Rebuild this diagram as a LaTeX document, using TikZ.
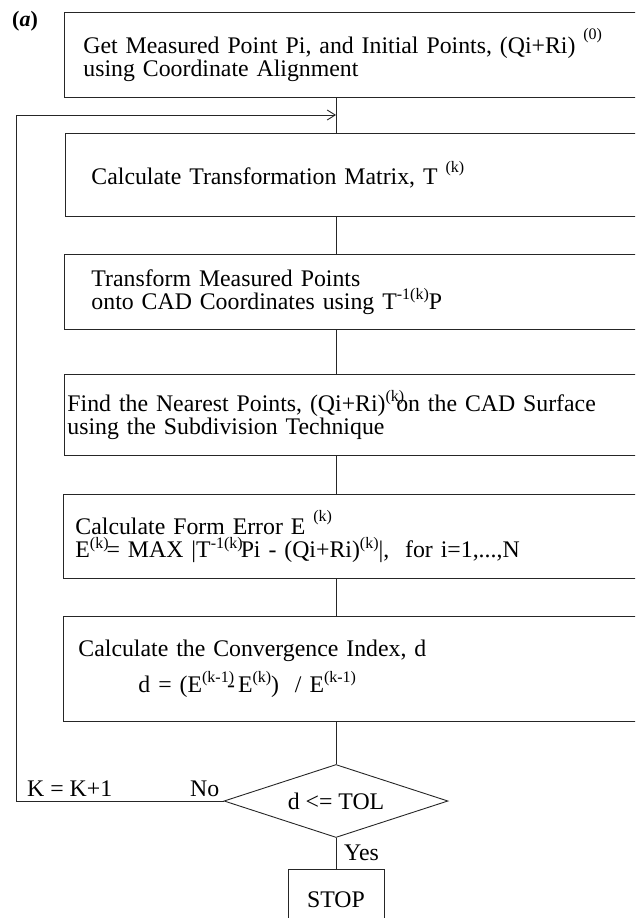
\documentclass[tikz,border=0pt]{standalone}
\usepackage{fontspec}
\setmainfont{Liberation Serif}
\usetikzlibrary{shapes.geometric,arrows.meta}
\newcommand\mainsize{\fontsize{23.8}{23}\selectfont}
\newcommand\mysup[2][10]{\raisebox{#1pt}{\fontsize{16}{16}\selectfont #2}}
\begin{document}
\begin{tikzpicture}[x=1pt,y=-1pt,
  ln/.style={line width=0.9pt, draw=black!85},
  stage/.style={ln, rectangle, anchor=north west, align=left, inner ysep=0pt, font=\mainsize},
  lbl/.style={inner sep=0pt, anchor=base west, font=\mainsize}]
\useasboundingbox (0,0) rectangle (635,918);
\clip (0,0) rectangle (635,918);
\node[lbl, font=\fontsize{22}{24}\selectfont] (tag) at (12,26) {\textbf{(\textit{a})}};
\node[stage, inner xsep=19pt, text width=598pt, minimum height=85pt] (b1) at (64,12)
  {Get Measured Point Pi, and Initial Points, (Qi+Ri) \mysup[14]{(0)}\\using Coordinate Alignment};
\node[stage, inner xsep=26pt, text width=583pt, minimum height=83pt] (b2) at (65,133)
  {Calculate Transformation Matrix, T \mysup[12]{(k)}};
\node[stage, inner xsep=27pt, text width=582pt, minimum height=75pt] (b3) at (64,254)
  {Transform Measured Points\\onto CAD Coordinates using T\mysup{-1(k)}P};
\node[stage, inner xsep=3pt, text width=630pt, minimum height=81pt] (b4) at (64,374)
  {Find the Nearest Points, (Qi+Ri)\mysup{(k)}\kern-8pt on the CAD Surface\\using the Subdivision Technique};
\node[stage, inner xsep=12pt, text width=613pt, minimum height=84pt] (b5) at (63,494)
  {Calculate Form Error E \mysup[13]{(k)}\\E\mysup[9]{(k)}\kern-2pt= MAX |T\mysup[9]{-1(k)}\kern-2pt Pi - (Qi+Ri)\mysup[9]{(k)}|,\ \ for i=1,...,N};
\node[stage, inner xsep=15pt, text width=607pt, minimum height=105pt] (b6) at (63,616)
  {Calculate the Convergence Index, d\\[9pt]\hspace*{60pt}d = (E\mysup{(k-1)}\kern-7pt-\kern3pt E\mysup{(k)})\ \ / E\mysup{(k-1)}};
\node[ln, diamond, aspect=3, minimum width=224pt, minimum height=73pt, inner sep=0pt, font=\mainsize] (dia) at (336,801) {d <= TOL};
\node[ln, rectangle, anchor=north, minimum width=96pt, minimum height=61pt, inner sep=0pt, font=\mainsize] (stop) at (336,869) {STOP};
\coordinate (corner) at (16,115);
\coordinate (merge) at (336,115);
\draw[ln] (dia.north |- b1.south) -- (dia.north |- b2.north);
\draw[ln] (dia.north |- b2.south) -- (dia.north |- b3.north);
\draw[ln] (dia.north |- b3.south) -- (dia.north |- b4.north);
\draw[ln] (dia.north |- b4.south) -- (dia.north |- b5.north);
\draw[ln] (dia.north |- b5.south) -- (dia.north |- b6.north);
\draw[ln] (dia.north |- b6.south) -- (dia.north);
\draw[ln] (dia.south) -- (stop.north);
\draw[ln, -{Straight Barb[length=8pt,width=10pt]}] (dia.west) -| (corner) -- (merge);
\node[lbl] (kk) at (27,796) {K = K+1};
\node[lbl] (no) at (190,796) {No};
\node[lbl] (yes) at (344,860) {Yes};
\end{tikzpicture}
\end{document}
